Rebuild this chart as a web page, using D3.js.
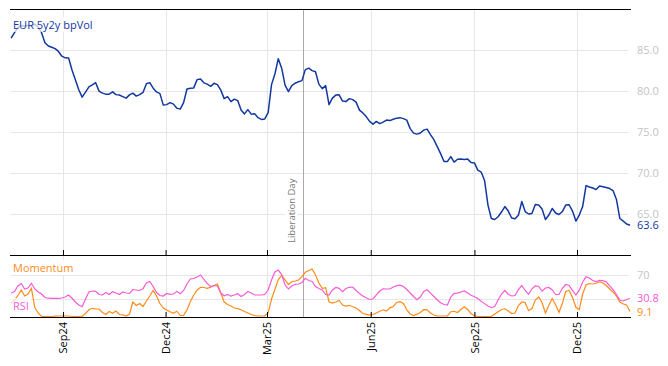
<!DOCTYPE html>
<html><head><meta charset="utf-8">
<script src="https://cdn.jsdelivr.net/npm/d3@7"></script>
<style>body{margin:0;background:#fff}svg{display:block}text{font-family:"Open Sans",sans-serif}</style>
</head><body><svg id="c" width="668" height="366"></svg>
<script>
const startDate = "2024-07-17";
const stepDays = 3;
const mainValues = [86.44,87.11,87.72,87.99,87.9,88.02,87.96,88.15,87.78,87.11,
85.89,85.49,85.33,85.16,84.82,84.24,84.04,84.02,82.56,81.38,
80.15,79.24,79.85,80.5,80.74,81.01,79.98,79.73,79.61,79.61,
79.89,79.55,79.5,79.31,79.12,79.52,79.73,79.37,79.55,79.82,
80.89,81.01,80.34,79.88,79.67,78.27,78.33,78.57,78.39,77.9,
77.78,78.57,80.24,80.34,80.37,81.38,81.46,80.99,80.83,80.56,
80.93,80.77,80.1,79.06,79.31,78.7,79.0,78.82,77.66,77.2,
77.72,77.17,77.23,76.74,76.52,76.58,77.35,80.77,82.07,83.94,
82.78,80.71,79.91,80.65,80.94,81.13,81.26,82.6,82.78,82.48,
82.35,80.83,80.28,80.65,78.33,79.12,79.49,79.53,78.76,78.7,
79.06,78.94,78.63,77.66,77.32,76.87,76.28,75.95,76.28,76.01,
76.2,76.44,76.38,76.54,76.68,76.74,76.62,76.44,75.4,74.85,
74.73,74.87,75.22,75.34,74.67,74.06,73.21,72.35,71.38,71.38,
71.99,71.32,71.66,71.69,71.62,71.68,71.26,71.22,70.34,70.1,
69.06,66.07,64.43,64.31,64.65,65.22,65.89,65.34,64.49,64.39,
64.83,66.5,65.28,64.98,65.04,66.13,66.07,65.59,64.31,64.85,
65.65,65.1,64.92,65.28,66.07,66.11,65.34,64.12,64.85,65.89,
68.45,68.27,68.15,67.96,68.39,68.31,68.21,68.09,67.82,66.75,
64.43,64.12,63.76,63.6];
const rsiValues = [40,42.5,51.7,55.8,46.7,48.3,56.2,46.7,41.7,38.3,
32.5,31.3,31.2,31.2,31.2,31.7,33.3,36.7,31.2,25,
20,17.2,30,41.7,43.3,42.8,37.5,36.7,40.8,37.5,
42,40,37.5,41.7,40,39.2,45.8,45,44.2,47.2,
56.7,59.2,50.8,40.8,35.8,35,39.2,37.8,38.3,42.7,
38.7,44.2,55,63.3,64.2,66.7,70,62.5,55.8,50.7,
52.5,51.7,40,35.5,37.5,34.7,36.7,38.7,34.2,37.5,
42.5,40,36.7,36.7,36.7,37.5,45,61.7,75,78.3,
70.8,53.3,46.7,51.7,54.5,55,57.5,64.5,60.8,59.2,
50.8,47.5,45,37.5,36.7,45,49.2,47.8,42.3,47.5,
49.5,50,44.2,39.2,35,32,29.2,30,36.7,43.3,
47,46.7,46.7,50,52.2,53,50.8,45.8,40,34.2,
28.8,33.3,42.5,45.3,39.7,34.2,28.7,23.7,20.8,20,
33.3,39.5,39.7,41.7,43.3,40,36.3,33.7,30.8,26.3,
22.3,18.3,15.5,17.5,28.3,38.3,44.2,37.8,35,35.8,
45.8,52.5,44.2,37.8,47,51.7,50.8,43,48.3,49.2,
45,37.5,37.5,47.8,54.2,52.5,44.5,36.7,44.7,58.3,
67,65,60.8,59,61,60.5,58.3,52,45.8,37.5,
27.8,26.7,29.2,30.8];
const momValues = [23.3,28.3,35.8,45,35,38.3,47.5,15.8,6.7,0.8,
0.5,0.5,0.8,1.3,1.7,1.7,1.7,1.7,0.8,0.5,
0.8,1.3,5.8,12,14.5,13.3,13.3,7.5,4.2,9.2,
6.2,10,4.2,3.7,1.7,5,25,19.2,22.5,17.5,
26.7,35,44.2,35,22.5,15,11.7,8.8,6.3,9.7,
2.5,2.8,11.7,25.8,36.7,45,49.5,49.2,47.8,49.7,
52.5,55,40,25,20.8,18.3,15,14,12,9.2,
6.7,4.2,2.5,1.7,1.7,2,6.7,30,45.8,62.5,
69.2,61.7,54.2,58.8,60,61.7,67.2,74.5,77.5,80,
70,56.7,47.8,48.8,25.5,23.3,25,27.5,20,18.3,
19.5,17,15,10.8,5.8,4.5,3.3,4.2,6.7,9.7,
12,10,15.3,17.5,24.2,25.5,22.5,12,5,2.5,
4.7,7.5,12.2,12,6.7,3.3,1.7,1.7,1.7,1.7,
8.8,9.5,7.5,12.5,17.2,12.5,5.8,2,0.8,0.5,
0.5,0.5,0.8,5,8.8,12.5,13.7,10,5.8,6.7,
19.2,25,24.2,10.5,14.2,28.3,33.3,23.7,6.7,19.7,
30.8,20.3,7.8,22.8,42.5,44.7,32.5,16.2,12.5,38.3,
53.3,55.8,55,56.3,58.7,56.7,52.5,46.7,41.7,35,
25,21.7,20,9.1];
const tickDates = ["2024-09-01","2024-12-01","2025-03-01","2025-06-01","2025-09-01","2025-12-01"];
const mainTicks = [65,70,75,80,85];
const lowTicks = [30,70];
const lowTickLabels = ["70"];
const eventDates = ["2025-04-02"];
const eventLabels = ["Liberation Day"];
const titleMain = "EUR 5y2y bpVol";
const labelMom = "Momentum", labelRsi = "RSI";

const colMain = "#1238a0", colRsi = "#f75ad6", colMom = "#ff8c1a", colGrid = "#e6e6e6", colAxisTxt = "#c4c4c4";
const parse = d3.utcParse("%Y-%m-%d");
const t0 = parse(startDate);
const dates = mainValues.map((_, i) => d3.utcDay.offset(t0, i * stepDays));

const svg = d3.select("#c");
const L = 10, R = 630;
const x = d3.scaleUtc().domain([parse("2024-07-16"), parse("2026-01-17")]).range([L, R]);
const yM = d3.scaleLinear().domain([60.1, 90]).range([254, 9]);
const yL = d3.scaleLinear().domain([0, 100]).range([317, 257]);
const tks = tickDates.map(parse);

// grids
const g = svg.append("g");
g.selectAll(".vg").data(tks).join("line")
  .attr("x1", d => Math.round(x(d)) + 0.5).attr("x2", d => Math.round(x(d)) + 0.5)
  .attr("y1", 9).attr("y2", 317).attr("stroke", colGrid);
g.selectAll(".hg").data(mainTicks).join("line")
  .attr("x1", L).attr("x2", 628).attr("y1", d => Math.round(yM(d)) + 0.5).attr("y2", d => Math.round(yM(d)) + 0.5)
  .attr("stroke", colGrid);
g.selectAll(".hl").data(lowTicks).join("line")
  .attr("x1", L).attr("x2", 628).attr("y1", d => Math.round(yL(d)) + 0.5).attr("y2", d => Math.round(yL(d)) + 0.5)
  .attr("stroke", colGrid);

// event line
eventDates.forEach((d, i) => {
  const ex = Math.round(x(parse(d))) + 0.5;
  svg.append("line").attr("x1", ex).attr("x2", ex).attr("y1", 9).attr("y2", 317).attr("stroke", "#aaaaaa");
  const eg = svg.append("g").attr("transform", `translate(${ex - 9},243) rotate(-90)`);
  const et = eg.append("text").attr("font-size", 9.5).attr("fill", "#777").text(eventLabels[i]);
  const w = et.node().getComputedTextLength();
  eg.insert("rect", "text").attr("x", -2).attr("y", -9).attr("width", w + 4).attr("height", 12).attr("fill", "#fff");
});

// lines
svg.append("path").datum(mainValues).attr("fill", "none").attr("stroke", colMain).attr("stroke-width", 1.5)
  .attr("stroke-linejoin", "round")
  .attr("d", d3.line().x((d, i) => x(dates[i])).y(d => yM(d)));
svg.append("path").datum(momValues).attr("fill", "none").attr("stroke", colMom).attr("stroke-width", 1.2)
  .attr("d", d3.line().x((d, i) => x(dates[i])).y(d => yL(d)));
svg.append("path").datum(rsiValues).attr("fill", "none").attr("stroke", colRsi).attr("stroke-width", 1.2)
  .attr("d", d3.line().x((d, i) => x(dates[i])).y(d => yL(d)));

// frame lines
svg.append("line").attr("x1", L).attr("x2", 631).attr("y1", 9.5).attr("y2", 9.5).attr("stroke", "#000");
const axTop = svg.append("g").attr("transform", "translate(0,255)")
  .call(d3.axisBottom(x).tickValues(tks).tickSizeInner(-5).tickSizeOuter(0).tickFormat(""));
axTop.select(".domain").attr("d", `M${L},0.5H631`);
const axBot = svg.append("g").attr("transform", "translate(0,317)")
  .call(d3.axisBottom(x).tickValues(tks).tickSizeInner(-5).tickSizeOuter(0).tickFormat(d3.utcFormat("%b%y")));
axBot.select(".domain").attr("d", `M${L},0.5H631`);
axBot.selectAll("text").attr("transform", "rotate(-90)").attr("x", -5).attr("y", 0).attr("dy", "0.35em")
  .attr("text-anchor", "end").attr("font-size", 11).attr("font-family", "Open Sans").attr("fill", "#000");

// right labels
svg.selectAll(".ym").data(mainTicks).join("text").attr("x", 637).attr("y", d => yM(d)).attr("dy", "0.35em")
  .attr("font-size", 11).attr("fill", colAxisTxt).text(d => d.toFixed(1));
svg.selectAll(".yl").data(lowTickLabels).join("text").attr("x", 637).attr("y", d => yL(+d)).attr("dy", "0.35em")
  .attr("font-size", 11).attr("fill", colAxisTxt).text(d => d);
const lastM = mainValues[mainValues.length - 1], lastR = rsiValues[rsiValues.length - 1], lastMo = momValues[momValues.length - 1];
svg.append("text").attr("x", 637).attr("y", yM(lastM)).attr("dy", "0.35em").attr("font-size", 11).attr("fill", colMain).text(lastM.toFixed(1));
svg.append("text").attr("x", 637).attr("y", yL(lastR)).attr("dy", "0.35em").attr("font-size", 11).attr("fill", colRsi).text(lastR.toFixed(1));
svg.append("text").attr("x", 637).attr("y", yL(lastMo) + 1).attr("dy", "0.35em").attr("font-size", 11).attr("fill", colMom).text(lastMo.toFixed(1));

// series labels with backgrounds
function tag(txt, tx, ty, col, op) {
  const gg = svg.append("g");
  const t = gg.append("text").attr("x", tx).attr("y", ty).attr("font-size", 11).attr("fill", col).text(txt);
  const b = t.node().getBBox();
  gg.insert("rect", "text").attr("x", b.x - 2).attr("y", b.y).attr("width", b.width + 4).attr("height", b.height)
    .attr("fill", "#fff").attr("fill-opacity", op);
}
tag(titleMain, 13, 29, colMain, 0.7);
tag(labelMom, 13, 272, colMom, 0.9);
tag(labelRsi, 13, 310, colRsi, 0.7);
</script></body></html>
